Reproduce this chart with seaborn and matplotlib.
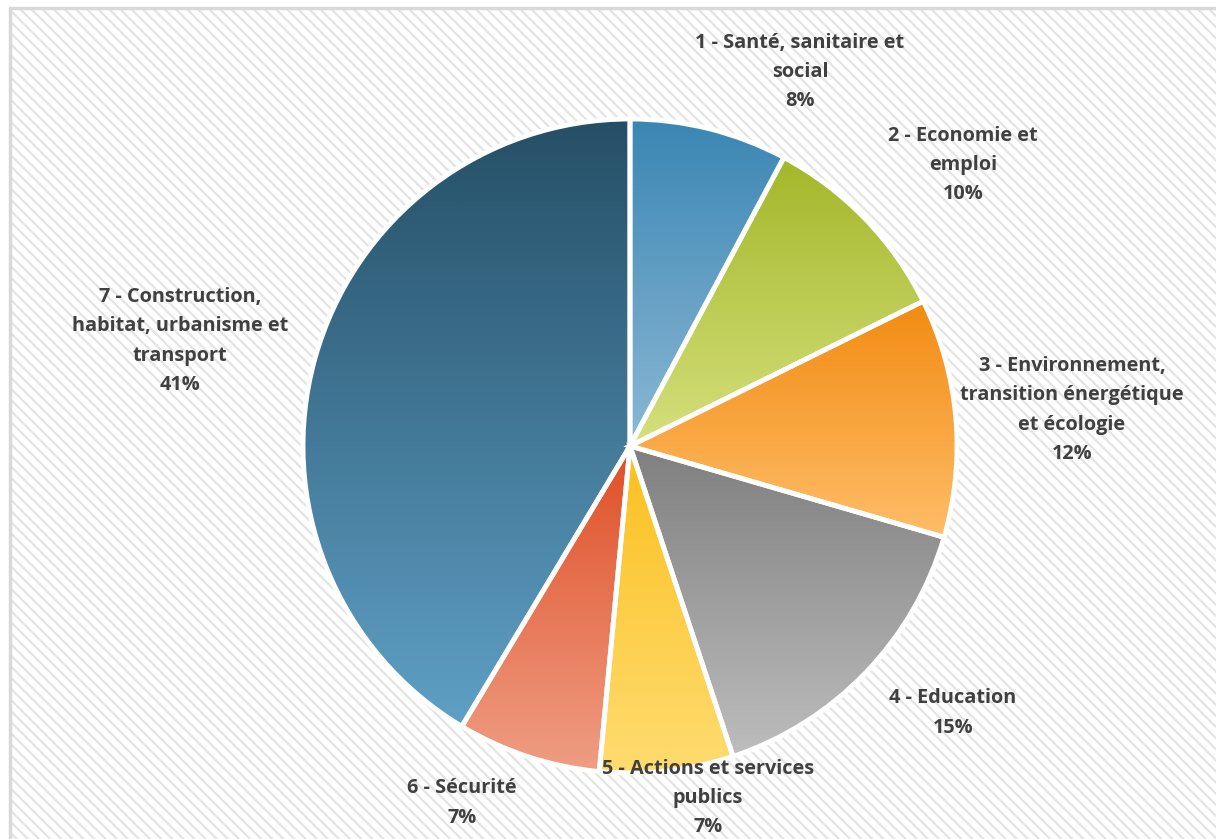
import numpy as np
import matplotlib
matplotlib.use("Agg")
import matplotlib.pyplot as plt
from matplotlib.patches import Rectangle
from matplotlib.lines import Line2D
from matplotlib.colors import to_rgb
import seaborn as sns

# Budget share per domain (percent)
categories = [
    "1 - Santé, sanitaire et\nsocial",
    "2 - Economie et\nemploi",
    "3 - Environnement,\ntransition énergétique\net écologie",
    "4 - Education",
    "5 - Actions et services\npublics",
    "6 - Sécurité",
    "7 - Construction,\nhabitat, urbanisme et\ntransport",
]
shares = [7.8, 9.9, 11.8, 15.4, 6.6, 7.1, 41.4]

# Gradient end colours for each slice (top -> bottom)
grad_top = ["#3a86b4", "#a3b72a", "#f28b12", "#7f7f7f", "#fbc01f", "#df4f27", "#254f66"]
grad_bottom = ["#8cb8d4", "#d5e07c", "#ffbd68", "#bdbdbd", "#ffdc70", "#ef9e84", "#5fa0c6"]

# Label anchor points in figure pixels (x from left, y from top)
label_xy = [(800, 72), (963, 165), (1072, 410), (953, 713), (708, 798), (462, 803), (180, 341)]

W, H = 1216, 839
sns.set_theme(style="white")
plt.rcParams["font.family"] = ["Open Sans", "DejaVu Sans"]
plt.rcParams["hatch.linewidth"] = 1.6

fig = plt.figure(figsize=(W / 100, H / 100), dpi=100)
fig.patch.set_facecolor("white")
ax = fig.add_axes([0, 0, 1, 1])

# Striped chart-area background with a thin frame on top and left
bg = Rectangle((10, 0), W, H - 8, facecolor="white", edgecolor="#e4e4e4",
               linewidth=0, hatch="\\\\\\", zorder=0)
ax.add_patch(bg)
ax.add_line(Line2D([10, 10], [0, H - 8], color="#d9d9d9", lw=2.5, zorder=1))
ax.add_line(Line2D([10, W], [H - 8, H - 8], color="#d9d9d9", lw=2.5, zorder=1))

center = (630, H - 446)
radius = 327
wedges, _ = ax.pie(shares, startangle=90, counterclock=False, center=center,
                   radius=radius, frame=True,
                   wedgeprops=dict(facecolor="none", edgecolor="white",
                                   linewidth=3.5, zorder=4))

# Fill every slice with a vertical gradient spanning its own bounding box
for w, c0, c1 in zip(wedges, grad_top, grad_bottom):
    ext = w.get_path().get_extents()
    cols = np.array([to_rgb(c) for c in sns.blend_palette([c0, c1], 256)])
    img = cols[:, None, :]
    im = ax.imshow(img, extent=(ext.x0, ext.x1, ext.y0, ext.y1), origin="upper",
                   aspect="auto", interpolation="bilinear", zorder=3)
    im.set_clip_path(w)
ax.set_xlim(0, W)
ax.set_ylim(0, H)
ax.set_aspect("equal")
ax.axis("off")

for name, val, (lx, ly) in zip(categories, shares, label_xy):
    ax.text(lx, H - ly, f"{name}\n{val:.0f}%", ha="center", va="center",
            fontsize=14.3, fontweight="bold", color="#404040",
            linespacing=1.62, zorder=5)

fig.savefig("out.png", dpi=100)
